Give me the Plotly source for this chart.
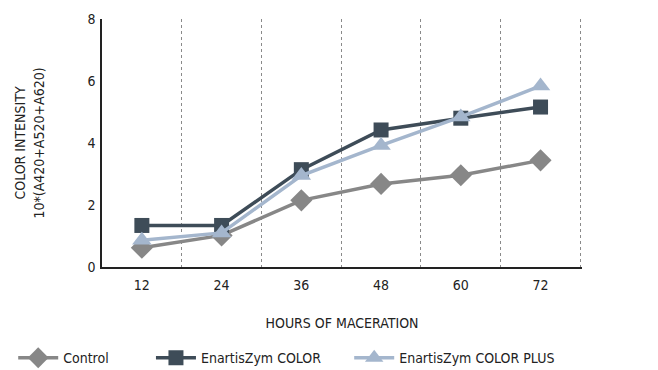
import plotly.graph_objects as go

hours = [12, 24, 36, 48, 60, 72]
control = [0.62, 1.02, 2.15, 2.68, 2.96, 3.44]
color = [1.34, 1.34, 3.14, 4.42, 4.80, 5.16]
color_plus = [0.86, 1.10, 2.95, 3.92, 4.84, 5.84]

FONT = "DejaVu Sans Condensed"
hour_labels = [str(h) for h in hours]

fig = go.Figure()
fig.add_trace(go.Scatter(
    x=hour_labels, y=control, name="Control", mode="lines+markers",
    line=dict(color="#878787", width=3.5),
    marker=dict(symbol="diamond", size=17, color="#878787"),
    legend="legend"))
fig.add_trace(go.Scatter(
    x=hour_labels, y=color, name="EnartisZym COLOR", mode="lines+markers",
    line=dict(color="#3e4c58", width=3.5),
    marker=dict(symbol="square", size=15, color="#3e4c58"),
    legend="legend2"))
fig.add_trace(go.Scatter(
    x=hour_labels, y=color_plus, name="EnartisZym COLOR PLUS", mode="lines+markers",
    line=dict(color="#a4b6cd", width=3.5),
    marker=dict(symbol="triangle-up", size=17, color="#a4b6cd"),
    legend="legend3"))

legend_common = dict(orientation="h", yanchor="middle", yref="container", y=0.032,
                     font=dict(family=FONT, size=14, color="#222"), itemwidth=40,
                     bgcolor="rgba(0,0,0,0)")

fig.update_layout(
    width=658, height=370,
    margin=dict(l=102, r=76, t=19, b=102.5, autoexpand=False),
    paper_bgcolor="white", plot_bgcolor="white",
    font=dict(family=FONT, size=14, color="#222"),
    showlegend=True,
    legend=dict(**legend_common, x=-0.185, xanchor="left"),
    legend2=dict(**legend_common, x=0.102, xanchor="left"),
    legend3=dict(**legend_common, x=0.515, xanchor="left"),
    xaxis=dict(
        type="category", range=[-0.5, 5.52], tickson="boundaries",
        showgrid=True, gridcolor="#8a8a8a", griddash="dot", gridwidth=1,
        zeroline=False, showline=True, linecolor="#222", linewidth=1.5,
        ticks="", tickfont=dict(size=14), ticklabelstandoff=4,
        title=dict(text="HOURS OF MACERATION", font=dict(size=14), standoff=27),
    ),
    yaxis=dict(
        range=[0, 8], dtick=2, showgrid=False, zeroline=False,
        showline=True, linecolor="#222", linewidth=1.5, ticks="",
        tickfont=dict(size=14), ticklabelstandoff=2,
        title=dict(text="COLOR INTENSITY<br>10*(A420+A520+A620)",
                   font=dict(size=14), standoff=40),
    ),
)

fig.write_html("out.html")
